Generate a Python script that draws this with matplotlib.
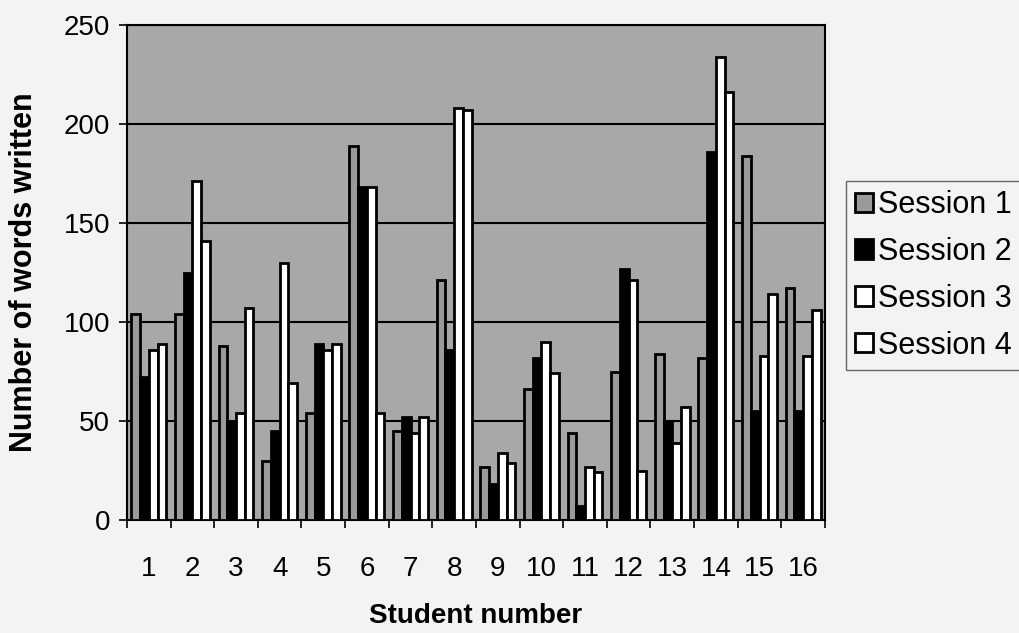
import matplotlib
matplotlib.use("Agg")
import matplotlib.pyplot as plt
import numpy as np

plt.rcParams['font.family'] = ['Liberation Sans', 'DejaVu Sans']

students = [str(i) for i in range(1, 17)]
session1 = [104, 104, 88, 30, 54, 189, 45, 121, 27, 66, 44, 75, 84, 82, 184, 117]
session2 = [72, 125, 50, 45, 89, 168, 52, 86, 18, 82, 7, 127, 50, 186, 55, 55]
session3 = [86, 171, 54, 130, 86, 168, 44, 208, 34, 90, 27, 121, 39, 234, 83, 83]
session4 = [89, 141, 107, 69, 89, 54, 52, 207, 29, 74, 24, 25, 57, 216, 114, 106]
series = [session1, session2, session3, session4]
labels = ['Session 1', 'Session 2', 'Session 3', 'Session 4']
colors = ['#9a9a9a', '#000000', '#ffffff', '#ffffff']

fig = plt.figure(figsize=(10.19, 6.33), dpi=100)
fig.patch.set_facecolor('#f3f3f3')
ax = fig.add_axes([0.1246, 0.1785, 0.685, 0.782])
ax.set_facecolor('#a8a8a8')

x = np.arange(len(students))
w = 0.2
for k, vals in enumerate(series):
    ax.bar(x + (k - 1.5) * w, vals, w, color=colors[k], edgecolor='black',
           linewidth=2.0, label=labels[k], zorder=3)

ax.set_xlim(-0.5, len(students) - 0.5)
ax.set_ylim(0, 250)
ax.set_yticks(np.arange(0, 251, 50))
ax.yaxis.grid(True, color='black', linewidth=1.5, zorder=1)
ax.set_axisbelow(True)

ax.set_xticks(x)
ax.set_xticklabels(students)
ax.set_xticks(np.arange(-0.5, len(students), 1), minor=True)
ax.tick_params(axis='x', which='major', length=0, pad=26, labelsize=20)
ax.tick_params(axis='x', which='minor', length=6, width=1.2, direction='out')
ax.tick_params(axis='y', length=6, width=1.2, labelsize=20, pad=6)

for s in ax.spines.values():
    s.set_linewidth(1.5)

ax.set_xlabel('Student number', fontsize=20, fontweight='bold', labelpad=15)
ax.set_ylabel('Number of words written', fontsize=22, fontweight='bold', labelpad=18)

leg = ax.legend(loc='upper left', bbox_to_anchor=(1.03, 0.685), fontsize=22,
                frameon=True, fancybox=False, edgecolor='#444444',
                facecolor='#f3f3f3', handlelength=0.6, handleheight=0.6,
                handletextpad=0.15, labelspacing=0.55, borderpad=0.3,
                borderaxespad=0)
leg.get_frame().set_linewidth(1.0)

fig.savefig('out.png', dpi=100, facecolor=fig.get_facecolor())
